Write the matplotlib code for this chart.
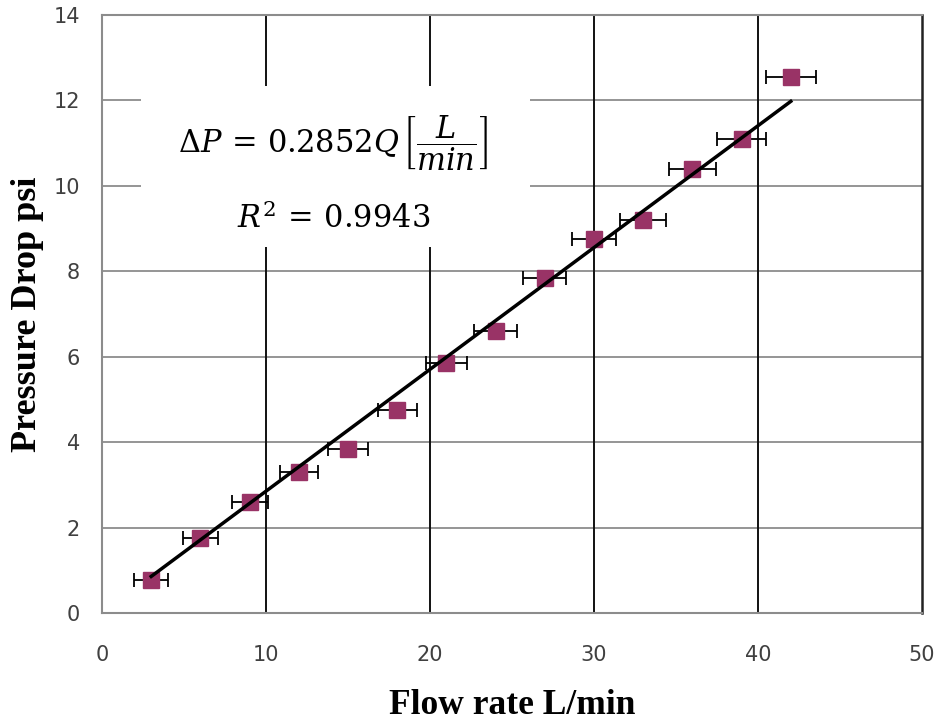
import matplotlib
matplotlib.use("Agg")
import matplotlib.pyplot as plt
from matplotlib.patches import Rectangle

# Data
flow = [3, 6, 9, 12, 15, 18, 21, 24, 27, 30, 33, 36, 39, 42]
dp = [0.78, 1.75, 2.6, 3.3, 3.85, 4.75, 5.85, 6.6, 7.85, 8.75, 9.2, 10.4, 11.1, 12.55]
flow_err = [1.05, 1.05, 1.1, 1.15, 1.2, 1.2, 1.25, 1.3, 1.3, 1.35, 1.4, 1.43, 1.49, 1.52]
slope = 0.2852
fit_x = [3, 42]
xticks = [0, 10, 20, 30, 40, 50]
yticks = [0, 2, 4, 6, 8, 10, 12, 14]

plt.rcParams['mathtext.fontset'] = 'dejavuserif'

fig = plt.figure(figsize=(9.38, 7.22), dpi=100)
ax = fig.add_axes([102/938, 1 - 613/722, 820/938, 598/722])

ax.set_xlim(0, 50)
ax.set_ylim(0, 14)
ax.set_xticks(xticks)
ax.set_yticks(yticks)

# Grid: horizontal grey, vertical black
for y in yticks[1:-1]:
    ax.axhline(y, color='#8c8c8c', lw=1.3, zorder=0.5)
for x in xticks[1:-1]:
    ax.axvline(x, color='#111111', lw=1.4, zorder=0.5)

for s in ['left', 'top', 'bottom']:
    ax.spines[s].set_color('#8c8c8c')
    ax.spines[s].set_linewidth(1.5)
ax.spines['right'].set_color('#222222')
ax.spines['right'].set_linewidth(1.8)

ax.tick_params(length=0, labelsize=15, labelcolor='#404040')
ax.tick_params(axis='x', pad=23)
ax.tick_params(axis='y', pad=16)

# White box with equation
ax.add_patch(Rectangle((0.0476, 0.612), 0.4744, 0.269, transform=ax.transAxes,
                       facecolor='white', edgecolor='none', zorder=1))
ax.text(0.282, 0.786, r'$\Delta P\,=\,0.2852Q\,\left[\dfrac{L}{min}\right]$',
        transform=ax.transAxes, ha='center', va='center', fontsize=22, zorder=2)
ax.text(0.283, 0.660, r'$R^2\,=\,0.9943$', transform=ax.transAxes,
        ha='center', va='center', fontsize=22, zorder=2)

# Error bars + markers
ax.errorbar(flow, dp, xerr=flow_err, fmt='none', ecolor='black', elinewidth=1.3,
            capsize=5, capthick=1.3, zorder=3)
ax.plot(flow, dp, linestyle='none', marker='s', markersize=11.5,
        color='#993366', zorder=4)

# Fit line
fit_y = [slope * x for x in fit_x]
ax.plot(fit_x, fit_y, color='black', lw=2.5, zorder=5)

ax.set_xlabel('Flow rate L/min', family='Liberation Serif', weight='bold',
              size=25.5, labelpad=17)
ax.set_ylabel('Pressure Drop psi', family='Liberation Serif', weight='bold',
              size=26, labelpad=7)

fig.savefig('out.png', dpi=100)
